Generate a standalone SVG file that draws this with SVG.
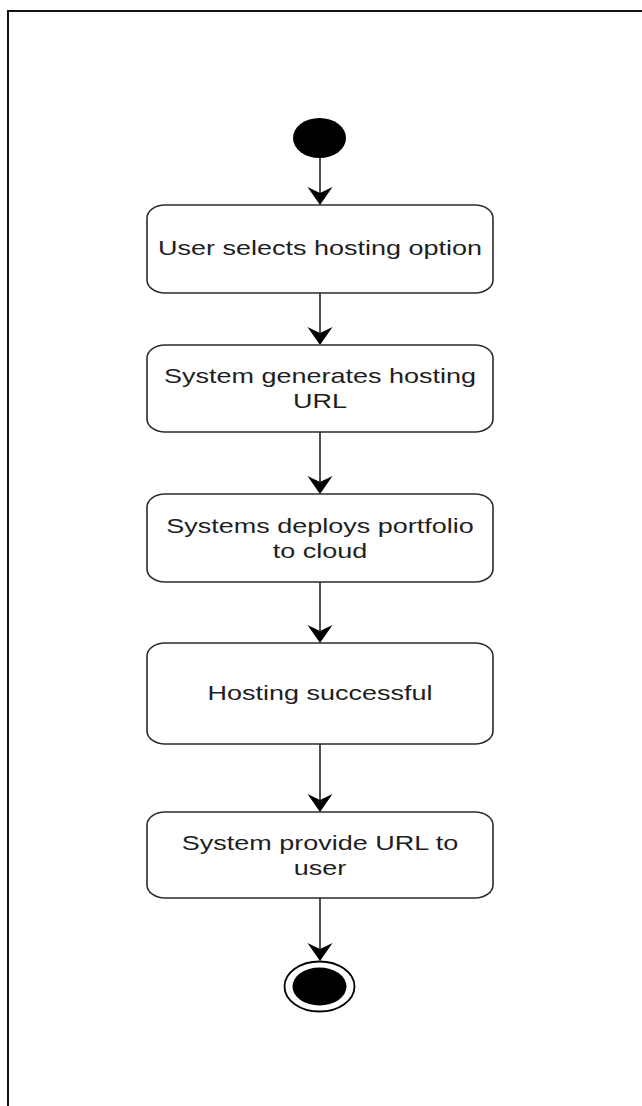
<svg xmlns="http://www.w3.org/2000/svg" width="642" height="1106" viewBox="0 0 642 1106">
  <style>
    .frame { fill: none; stroke: #111; stroke-width: 2; }
    .box { fill: #fff; stroke: #2b2b2b; stroke-width: 1.6; }
    .lbl { font-family: "Liberation Sans", Arial, sans-serif; font-size: 20px; fill: #1e1e1e; text-anchor: middle; }
    .edge { fill: none; stroke: #222; stroke-width: 1.6; }
    .head { fill: #000; stroke: none; }
  </style>
  <defs>
    <!-- notched arrowhead, tip at the origin, pointing down -->
    <path id="arrowhead" class="head" d="M0,0 L-12.5,-18 L0,-12 L12.5,-18 Z"/>
  </defs>

  <rect width="642" height="1106" fill="#fff"/>
  <!-- outer frame, running off the right and bottom edges -->
  <path class="frame" d="M8,1110 L8,11 L650,11"/>

  <g id="connectors">
    <line class="edge" x1="320" y1="158" x2="320" y2="195"/>
    <use href="#arrowhead" x="320" y="205"/>
    <line class="edge" x1="320" y1="293" x2="320" y2="335"/>
    <use href="#arrowhead" x="320" y="345"/>
    <line class="edge" x1="320" y1="432" x2="320" y2="484"/>
    <use href="#arrowhead" x="320" y="494"/>
    <line class="edge" x1="320" y1="582" x2="320" y2="633"/>
    <use href="#arrowhead" x="320" y="643"/>
    <line class="edge" x1="320" y1="744" x2="320" y2="802"/>
    <use href="#arrowhead" x="320" y="812"/>
    <line class="edge" x1="320" y1="898" x2="320" y2="951"/>
    <use href="#arrowhead" x="320" y="961"/>
  </g>

  <g id="start">
    <ellipse cx="319.5" cy="138" rx="26.5" ry="20" fill="#000"/>
  </g>

  <g id="select-option">
    <rect class="box" x="147" y="205" width="346" height="88" rx="18" ry="13"/>
    <text class="lbl" transform="translate(320,255) scale(1.35,1)">User selects hosting option</text>
  </g>

  <g id="generate-url">
    <rect class="box" x="147" y="345" width="346" height="87" rx="18" ry="13"/>
    <text class="lbl" transform="translate(320,383) scale(1.35,1)">System generates hosting</text>
    <text class="lbl" transform="translate(320,408) scale(1.35,1)">URL</text>
  </g>

  <g id="deploy">
    <rect class="box" x="147" y="494" width="346" height="88" rx="18" ry="13"/>
    <text class="lbl" transform="translate(320,533) scale(1.35,1)">Systems deploys portfolio</text>
    <text class="lbl" transform="translate(320,558) scale(1.35,1)">to cloud</text>
  </g>

  <g id="hosting-ok">
    <rect class="box" x="147" y="643" width="346" height="101" rx="18" ry="13"/>
    <text class="lbl" transform="translate(320,700) scale(1.35,1)">Hosting successful</text>
  </g>

  <g id="provide-url">
    <rect class="box" x="147" y="812" width="346" height="86" rx="18" ry="13"/>
    <text class="lbl" transform="translate(320,850) scale(1.35,1)">System provide URL to</text>
    <text class="lbl" transform="translate(320,875) scale(1.35,1)">user</text>
  </g>

  <g id="end">
    <ellipse cx="319.5" cy="986.5" rx="35" ry="25" fill="#fff" stroke="#000" stroke-width="1.8"/>
    <ellipse cx="319.5" cy="986.5" rx="27" ry="19" fill="#000"/>
  </g>
</svg>
